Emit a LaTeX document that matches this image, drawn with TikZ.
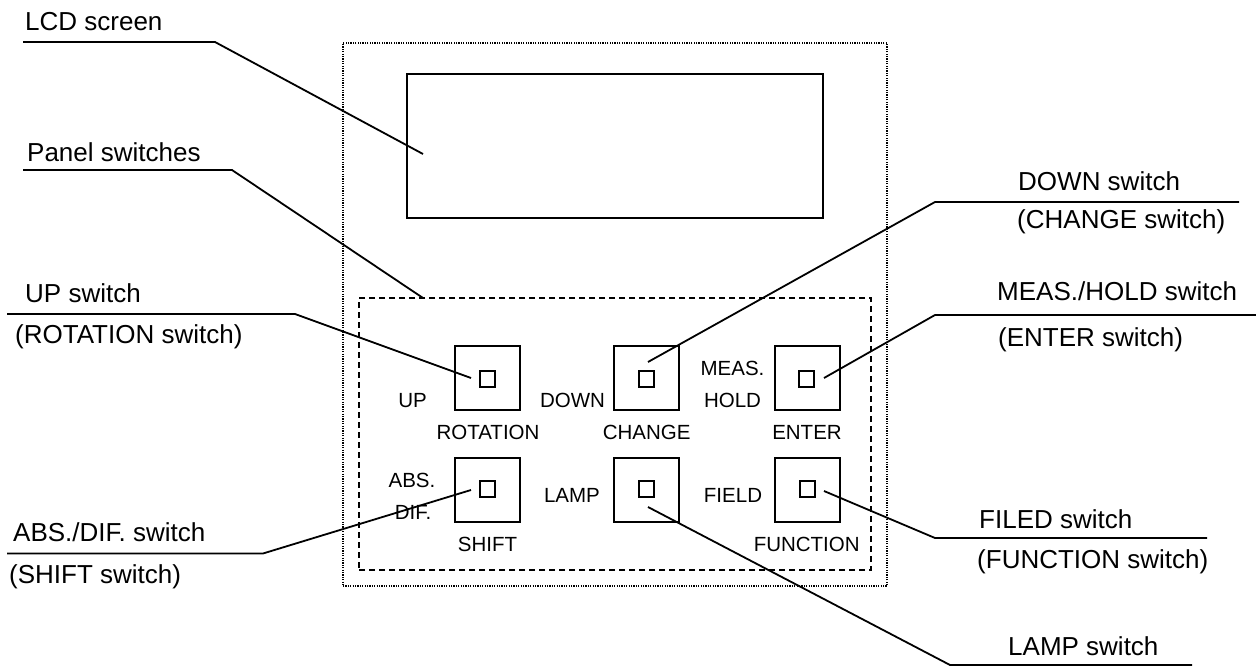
\documentclass[tikz,border=0pt]{standalone}
\usepackage{fontspec}
\setmainfont{Liberation Sans}
\begin{document}
\begin{tikzpicture}[x=1pt,y=-1pt,
  outer/.style={anchor=base west,inner sep=0pt,font=\fontsize{26}{30}\selectfont},
  lbl/.style={anchor=base,inner sep=0pt,font=\fontsize{20.5}{24}\selectfont},
  btn/.style={draw,line width=1.9pt,minimum width=65pt,minimum height=64pt,inner sep=0pt},
  led/.style={draw,line width=1.8pt,minimum width=15pt,minimum height=16pt,inner sep=0pt},
  leader/.style={line width=1.8pt},
  panelbox/.style={draw,line width=1.3pt,dash pattern=on 1.2pt off 1.2pt,minimum width=544pt,minimum height=543pt,inner sep=0pt},
  lcdbox/.style={draw,line width=2.4pt,minimum width=416pt,minimum height=144pt,inner sep=0pt},
  groupbox/.style={draw,line width=1.7pt,dash pattern=on 6pt off 4pt,minimum width=512pt,minimum height=272pt,inner sep=0pt}
]
\useasboundingbox (0,0) rectangle (1256,666);
% boxes
\node[panelbox] (panel) at (615,314.5) {};
\node[lcdbox] (lcd) at (615,146) {};
\node[groupbox] (group) at (615,434) {};
% buttons
\node[btn] (bUP) at (487.5,378) {};
\node[btn] (bDOWN) at (646.5,378) {};
\node[btn] (bMEAS) at (807.5,378) {};
\node[btn] (bABS) at (487.5,490) {};
\node[btn] (bLAMP) at (646.5,490) {};
\node[btn] (bFIELD) at (807.5,490) {};
\node[led] (sUP) at (487.5,379) {};
\node[led] (sDOWN) at (646.5,379) {};
\node[led] (sMEAS) at (806.5,379) {};
\node[led] (sABS) at (487.5,489) {};
\node[led] (sLAMP) at (646.5,489) {};
\node[led] (sFIELD) at (807.5,489) {};
% button labels
\node[lbl] (lUP) at (412.5,407) {UP};
\node[lbl] (lROT) at (488,439) {ROTATION};
\node[lbl] (lDOWN) at (572.5,407) {DOWN};
\node[lbl] (lCHG) at (646.7,439) {CHANGE};
\node[lbl] (lMEAS) at (732.5,375) {MEAS.};
\node[lbl] (lHOLD) at (732.5,407) {HOLD};
\node[lbl] (lENT) at (807,439) {ENTER};
\node[lbl] (lABS) at (412,487) {ABS.};
\node[lbl] (lDIF) at (413,519) {DIF.};
\node[lbl] (lLAMP) at (572,502) {LAMP};
\node[lbl] (lFIELD) at (733,502) {FIELD};
\node[lbl] (lSHIFT) at (487.5,551) {SHIFT};
\node[lbl] (lFUNC) at (806.7,551) {FUNCTION};
% outer labels
\node[outer] (tLCD) at (25,31) {LCD screen};
\node[outer] (tPanel) at (27,162) {Panel switches};
\node[outer] (tUP) at (25,302) {UP switch};
\node[outer] (tUP2) at (15,343) {(ROTATION switch)};
\node[outer] (tABS) at (13,541) {ABS./DIF. switch};
\node[outer] (tABS2) at (9,583) {(SHIFT switch)};
\node[outer] (tDOWN) at (1018,190) {DOWN switch};
\node[outer] (tDOWN2) at (1017,228) {(CHANGE switch)};
\node[outer] (tMEAS) at (997,300) {MEAS./HOLD switch};
\node[outer] (tMEAS2) at (998,346) {(ENTER switch)};
\node[outer] (tFIELD) at (979,528) {FILED switch};
\node[outer] (tFIELD2) at (977,568) {(FUNCTION switch)};
\node[outer] (tLAMP) at (1008,655) {LAMP switch};
% leader coordinates
\coordinate (aLCD) at (23,42);   \coordinate (kLCD) at (215,42);   \coordinate (eLCD) at (423,154);
\coordinate (aPan) at (23,170);  \coordinate (kPan) at (232,170);  \coordinate (ePan) at (423,298);
\coordinate (aUP) at (7,314);    \coordinate (kUP) at (295,314);   \coordinate (eUP) at (471,378);
\coordinate (aABS) at (7,553.5); \coordinate (kABS) at (263,553.5);\coordinate (eABS) at (471,490);
\coordinate (aDOWN) at (1239,202); \coordinate (kDOWN) at (935,202); \coordinate (eDOWN) at (648,362);
\coordinate (aMEAS) at (1256,315); \coordinate (kMEAS) at (935,315); \coordinate (eMEAS) at (824,378);
\coordinate (aFIELD) at (1207,538); \coordinate (kFIELD) at (935,538); \coordinate (eFIELD) at (824,491);
\coordinate (aLAMP) at (1192,665); \coordinate (kLAMP) at (950,665); \coordinate (eLAMP) at (648,507);
% leaders
\draw[leader] (aLCD) -- (kLCD) -- (eLCD);
\draw[leader] (aPan) -- (kPan) -- (ePan);
\draw[leader] (aUP) -- (kUP) -- (eUP);
\draw[leader] (aABS) -- (kABS) -- (eABS);
\draw[leader] (aDOWN) -- (kDOWN) -- (eDOWN);
\draw[leader] (aMEAS) -- (kMEAS) -- (eMEAS);
\draw[leader] (aFIELD) -- (kFIELD) -- (eFIELD);
\draw[leader] (aLAMP) -- (kLAMP) -- (eLAMP);
\end{tikzpicture}
\end{document}
